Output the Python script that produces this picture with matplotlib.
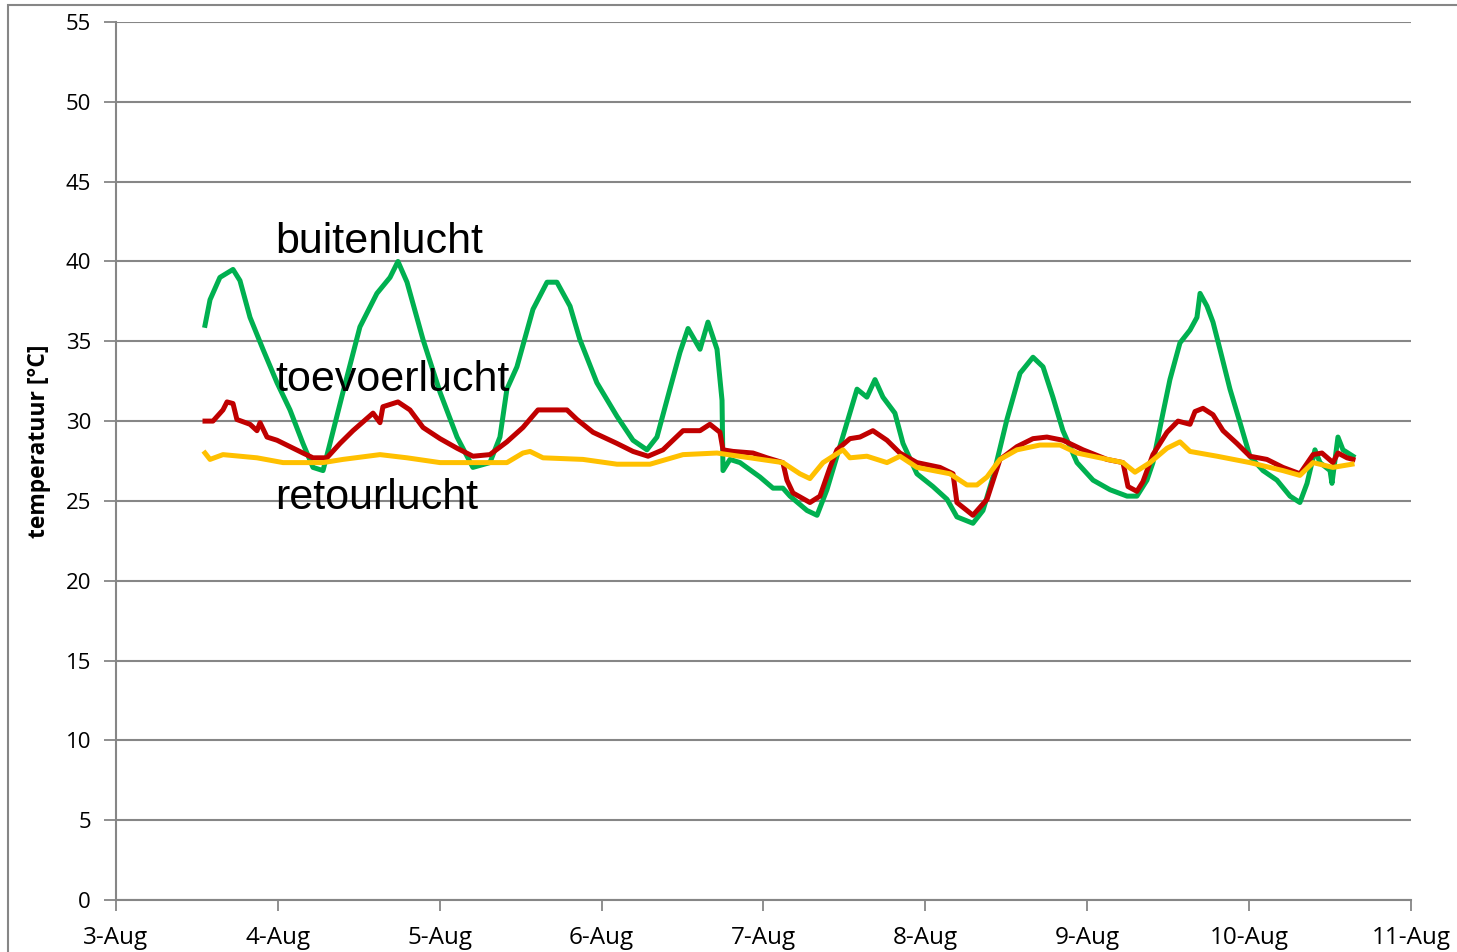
import numpy as np
import matplotlib.pyplot as plt
from matplotlib.patches import Rectangle

# ---------------- data (x = days since 3-Aug 00:00, y = °C) ----------------
day_labels = ['3-Aug', '4-Aug', '5-Aug', '6-Aug', '7-Aug', '8-Aug', '9-Aug', '10-Aug', '11-Aug']

buiten_x = [0.550, 0.581, 0.642, 0.723, 0.766, 0.828, 0.908, 0.995, 1.075, 1.155, 1.217, 1.279,
            1.322, 1.402, 1.507, 1.612, 1.693, 1.742, 1.798, 1.897, 2.002, 2.107, 2.205, 2.310,
            2.372, 2.415, 2.477, 2.576, 2.663, 2.724, 2.805, 2.866, 2.971, 3.095, 3.194, 3.280,
            3.342, 3.422, 3.484, 3.534, 3.608, 3.657, 3.713, 3.744, 3.750, 3.793, 3.855, 3.978,
            4.059, 4.120, 4.164, 4.269, 4.331, 4.392, 4.454, 4.516, 4.578, 4.639, 4.689, 4.738,
            4.812, 4.862, 4.948, 5.047, 5.134, 5.195, 5.294, 5.356, 5.418, 5.504, 5.585, 5.665,
            5.727, 5.788, 5.850, 5.937, 6.036, 6.141, 6.246, 6.307, 6.369, 6.406, 6.468, 6.511,
            6.573, 6.635, 6.678, 6.697, 6.740, 6.777, 6.820, 6.882, 6.944, 7.005, 7.086, 7.172,
            7.253, 7.314, 7.358, 7.407, 7.438, 7.500, 7.512, 7.549, 7.580, 7.642]
buiten_y = [36.0, 37.6, 39.0, 39.5, 38.8, 36.5, 34.5, 32.4, 30.7, 28.6, 27.1, 26.9,
            28.6, 31.8, 35.9, 38.0, 39.0, 40.0, 38.7, 35.1, 31.8, 29.0, 27.1, 27.4,
            29.0, 32.0, 33.4, 37.0, 38.7, 38.7, 37.2, 35.1, 32.4, 30.3, 28.8, 28.2,
            29.0, 32.0, 34.3, 35.8, 34.5, 36.2, 34.5, 31.3, 26.9, 27.6, 27.4, 26.5,
            25.8, 25.8, 25.3, 24.4, 24.1, 25.7, 27.8, 29.9, 32.0, 31.5, 32.6, 31.5,
            30.5, 28.6, 26.7, 25.9, 25.1, 24.0, 23.6, 24.4, 26.5, 30.1, 33.0, 34.0,
            33.4, 31.5, 29.4, 27.4, 26.3, 25.7, 25.3, 25.3, 26.3, 27.4, 30.5, 32.6,
            34.9, 35.7, 36.5, 38.0, 37.2, 36.2, 34.5, 32.0, 29.9, 27.8, 26.9, 26.3,
            25.3, 24.9, 26.1, 28.2, 27.4, 26.9, 26.1, 29.0, 28.2, 27.8]

toevoer_x = [0.550, 0.599, 0.661, 0.686, 0.723, 0.747, 0.828, 0.871, 0.890, 0.933, 0.995, 1.075,
             1.155, 1.217, 1.303, 1.384, 1.464, 1.588, 1.631, 1.649, 1.742, 1.816, 1.897, 2.002,
             2.107, 2.205, 2.310, 2.415, 2.514, 2.607, 2.786, 2.848, 2.947, 3.095, 3.194, 3.287,
             3.379, 3.503, 3.608, 3.669, 3.731, 3.750, 3.812, 3.935, 4.022, 4.120, 4.145, 4.182,
             4.287, 4.349, 4.411, 4.454, 4.534, 4.596, 4.676, 4.763, 4.843, 4.948, 5.090, 5.171,
             5.195, 5.257, 5.294, 5.381, 5.461, 5.566, 5.665, 5.751, 5.850, 5.974, 6.122, 6.221,
             6.252, 6.307, 6.344, 6.406, 6.493, 6.561, 6.635, 6.666, 6.715, 6.777, 6.839, 6.925,
             7.005, 7.110, 7.209, 7.314, 7.395, 7.450, 7.518, 7.549, 7.605, 7.642]
toevoer_y = [30.0, 30.0, 30.7, 31.2, 31.1, 30.1, 29.8, 29.4, 29.9, 29.0, 28.8, 28.4,
             28.0, 27.7, 27.7, 28.6, 29.4, 30.5, 29.9, 30.9, 31.2, 30.7, 29.6, 28.9,
             28.3, 27.8, 27.9, 28.7, 29.6, 30.7, 30.7, 30.1, 29.3, 28.6, 28.1, 27.8,
             28.2, 29.4, 29.4, 29.8, 29.3, 28.2, 28.1, 28.0, 27.7, 27.4, 26.3, 25.5,
             24.9, 25.3, 27.1, 28.2, 28.9, 29.0, 29.4, 28.8, 28.0, 27.4, 27.1, 26.7,
             24.9, 24.4, 24.1, 25.1, 27.6, 28.4, 28.9, 29.0, 28.8, 28.2, 27.6, 27.4,
             25.9, 25.6, 26.2, 27.9, 29.3, 30.0, 29.8, 30.6, 30.8, 30.4, 29.4, 28.6,
             27.8, 27.6, 27.1, 26.7, 27.9, 28.0, 27.4, 28.0, 27.7, 27.6]

retour_x = [0.550, 0.581, 0.661, 0.871, 1.032, 1.180, 1.279, 1.402, 1.631, 1.798, 2.002, 2.205,
            2.415, 2.514, 2.558, 2.638, 2.885, 3.095, 3.299, 3.503, 3.713, 3.917, 4.120, 4.225,
            4.287, 4.368, 4.491, 4.534, 4.639, 4.763, 4.843, 4.948, 5.152, 5.257, 5.319, 5.381,
            5.461, 5.566, 5.708, 5.832, 5.937, 6.079, 6.221, 6.295, 6.388, 6.493, 6.573, 6.635,
            6.802, 7.005, 7.209, 7.314, 7.395, 7.518, 7.636]
retour_y = [28.0, 27.6, 27.9, 27.7, 27.4, 27.4, 27.4, 27.6, 27.9, 27.7, 27.4, 27.4,
            27.4, 28.0, 28.1, 27.7, 27.6, 27.3, 27.3, 27.9, 28.0, 27.7, 27.4, 26.7,
            26.4, 27.4, 28.2, 27.7, 27.8, 27.4, 27.8, 27.1, 26.7, 26.0, 26.0, 26.5,
            27.6, 28.2, 28.5, 28.5, 28.0, 27.7, 27.4, 26.8, 27.4, 28.3, 28.7, 28.1,
            27.8, 27.4, 26.9, 26.6, 27.4, 27.1, 27.3]

# ---------------- figure ----------------
fig = plt.figure(figsize=(14.57, 9.52), dpi=100)
ax = fig.add_axes([0.0796, 0.0546, 0.8888, 0.9223])

grid_c = '#868686'
ax.plot(buiten_x, buiten_y, color='#00B050', lw=3.6, solid_joinstyle='round')
ax.plot(toevoer_x, toevoer_y, color='#C00000', lw=3.6, solid_joinstyle='round')
ax.plot(retour_x, retour_y, color='#FFC000', lw=3.6, solid_joinstyle='round')

ax.set_xlim(0, 8)
ax.set_ylim(0, 55)
ax.set_xticks(np.arange(9))
ax.set_xticklabels(day_labels, fontsize=17.5, family='Open Sans')
ax.set_yticks(np.arange(0, 56, 5))
ax.set_yticklabels([str(v) for v in range(0, 56, 5)], fontsize=16, family='Open Sans')
ax.tick_params(axis='y', length=9, width=1.3, color=grid_c, pad=9)
ax.tick_params(axis='x', length=8, width=1.3, color=grid_c, pad=11)
ax.yaxis.grid(True, color=grid_c, lw=1.5)
ax.set_axisbelow(True)
for s in ['top', 'right']:
    ax.spines[s].set_visible(False)
for s in ['left', 'bottom']:
    ax.spines[s].set_color(grid_c)
    ax.spines[s].set_linewidth(1.5)

ax.set_ylabel('temperatuur [°C]', fontsize=16.5, fontweight='bold', family='Open Sans')
ax.yaxis.set_label_coords(-0.050, 0.523)

# labels at the curves
ax.text(0.982, 40.5, 'buitenlucht', fontsize=31, family='Liberation Sans', va='baseline')
ax.text(0.982, 31.9, 'toevoerlucht', fontsize=31, family='Liberation Sans', va='baseline')
ax.text(0.982, 24.5, 'retourlucht', fontsize=31, family='Liberation Sans', va='baseline')

# outer chart frame
fig.patches.append(Rectangle((8 / 1457, -0.05), 1.2, 1.05 - 5 / 952, transform=fig.transFigure,
                             fill=False, edgecolor=grid_c, lw=1.5))

fig.savefig('out.png', dpi=100)
